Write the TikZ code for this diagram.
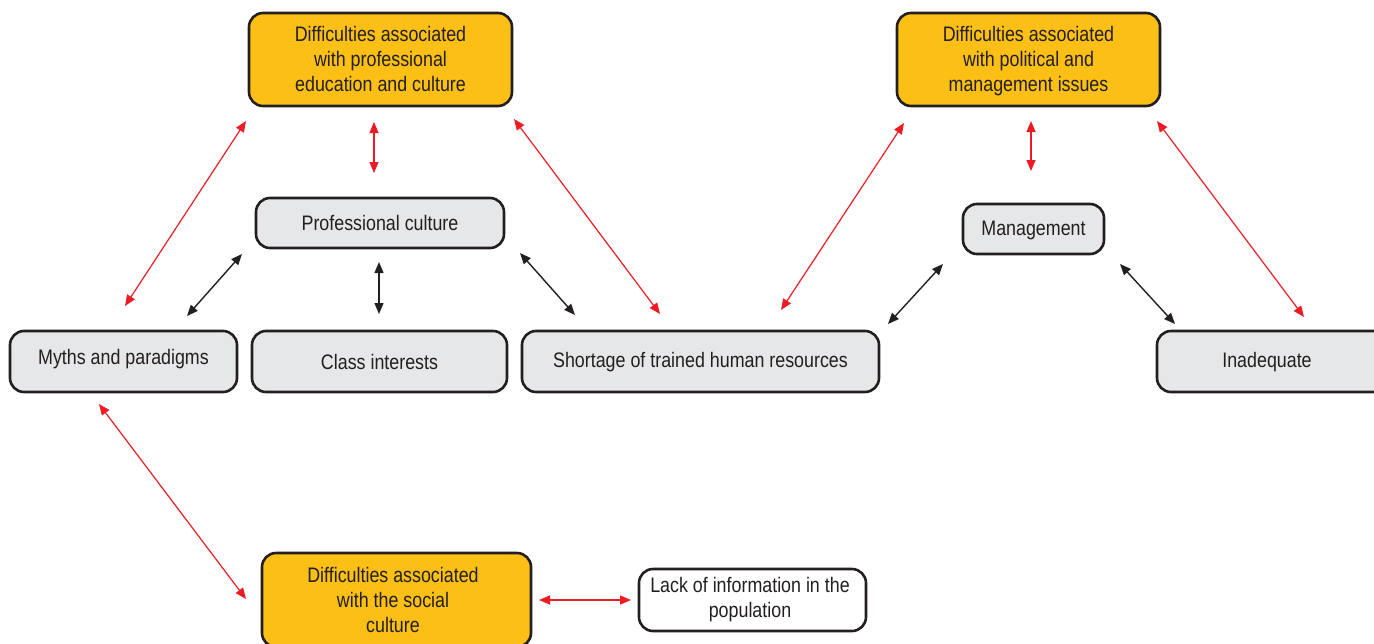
\documentclass[tikz,border=0pt]{standalone}
\usepackage{fontspec}
\setmainfont[FakeStretch=0.85]{Liberation Sans}
\usetikzlibrary{arrows.meta}
\definecolor{orng}{HTML}{FBBF16}
\definecolor{gry}{HTML}{E6E7E8}
\definecolor{ink}{HTML}{231F20}
\definecolor{rd}{HTML}{ED1C24}
\tikzset{
  box/.style={draw=ink, line width=2.6pt, rounded corners=14pt, fill=gry, text=ink,
    font=\fontsize{21}{25}\selectfont, align=center, inner sep=0pt},
  obox/.style={box, fill=orng},
  wbox/.style={box, fill=white},
  lbl/.style={text=ink, font=\fontsize{21}{25}\selectfont, align=center, inner sep=0pt},
  rarr/.style={draw=rd, line width=1.2pt, {Triangle[length=11pt,width=9pt]}-{Triangle[length=11pt,width=9pt]}},
  barr/.style={draw=ink, line width=1.4pt, {Triangle[length=11pt,width=9pt]}-{Triangle[length=11pt,width=9pt]}},
}
\begin{document}
\begin{tikzpicture}[x=1pt,y=-1pt]
\useasboundingbox (0,0) rectangle (1374,643);
% boxes
\node[obox, minimum width=263pt, minimum height=93pt] (eduhead) at (380.5,59.5) {};
\node[lbl] (eduheadt) at (380.5,59) {Difficulties associated\\with professional\\education and culture};
\node[obox, minimum width=263pt, minimum height=93pt] (polhead) at (1028.5,59.5) {};
\node[lbl] (polheadt) at (1028.5,61) {Difficulties associated\\with political and\\management issues};
\node[box, minimum width=248pt, minimum height=50pt] (profcult) at (380,223) {Professional culture};
\node[box, minimum width=141pt, minimum height=50pt] (mgmt) at (1033.5,229) {};
\node[lbl] (mgmtt) at (1033.5,230) {Management};
\node[box, minimum width=227pt, minimum height=61pt] (myths) at (123.5,361.5) {};
\node[lbl] (mythst) at (123.5,359) {Myths and paradigms};
\node[box, minimum width=255pt, minimum height=61pt] (class) at (379.5,361.5) {Class interests};
\node[box, minimum width=357pt, minimum height=61pt] (short) at (700.5,361.5) {};
\node[lbl] (shortt) at (700.5,362) {Shortage of trained human resources};
\node[box, minimum width=240pt, minimum height=61pt] (inad) at (1277,361.5) {};
\node[lbl] (inadt) at (1267,362) {Inadequate};
\node[obox, minimum width=269pt, minimum height=94pt] (soc) at (396.5,600) {};
\node[lbl] (soct) at (393,599.5) {Difficulties associated\\with the social\\culture};
\node[wbox, minimum width=227pt, minimum height=62pt] (lack) at (752.5,600) {};
\node[lbl] (lackt) at (750,599.5) {Lack of information in the\\population};
% arrow end points
\coordinate (r1a) at (125,306); \coordinate (r1b) at (246,121);
\coordinate (r2a) at (374,122); \coordinate (r2b) at (374,173);
\coordinate (r3a) at (514,119); \coordinate (r3b) at (660,314);
\coordinate (r4a) at (1031,121); \coordinate (r4b) at (1031,171);
\coordinate (r5a) at (904,123); \coordinate (r5b) at (781,310);
\coordinate (r6a) at (1157,121); \coordinate (r6b) at (1304,317);
\coordinate (r7a) at (99,404); \coordinate (r7b) at (246,599);
\coordinate (r8a) at (539,600); \coordinate (r8b) at (631,600);
\coordinate (b1a) at (187,316); \coordinate (b1b) at (242,254);
\coordinate (b2a) at (379,262); \coordinate (b2b) at (379,314);
\coordinate (b3a) at (520,253); \coordinate (b3b) at (575,315);
\coordinate (b4a) at (888,324); \coordinate (b4b) at (943,264);
\coordinate (b5a) at (1120,264); \coordinate (b5b) at (1175,324);
% connectors
\draw[rarr] (r1a) -- (r1b);
\draw[rarr] (r2a) -- (r2b);
\draw[rarr] (r3a) -- (r3b);
\draw[rarr] (r4a) -- (r4b);
\draw[rarr] (r5a) -- (r5b);
\draw[rarr] (r6a) -- (r6b);
\draw[rarr] (r7a) -- (r7b);
\draw[rarr] (r8a) -- (r8b);
\draw[barr] (b1a) -- (b1b);
\draw[barr] (b2a) -- (b2b);
\draw[barr] (b3a) -- (b3b);
\draw[barr] (b4a) -- (b4b);
\draw[barr] (b5a) -- (b5b);
\end{tikzpicture}
\end{document}
